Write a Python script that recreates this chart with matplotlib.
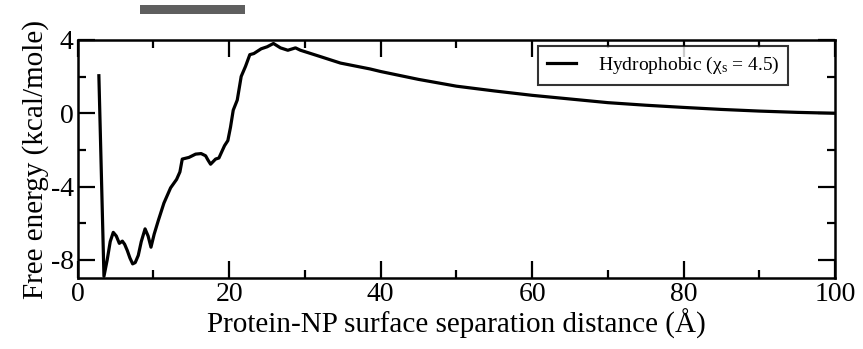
import matplotlib
matplotlib.use("Agg")
import matplotlib.pyplot as plt
from matplotlib.patches import Rectangle

# Free-energy profile vs. protein-NP surface separation
separation = [2.8, 3.47, 3.9, 4.3, 4.7, 5.1, 5.5, 5.9, 6.2, 6.55, 6.9, 7.26, 7.6,
              8.0, 8.4, 8.9, 9.3, 9.68, 10.1, 10.65, 11.39, 12.27, 13.06, 13.5, 13.81,
              14.69, 15.57, 16.3, 16.89, 17.2, 17.55, 18.21, 18.65, 19.39, 19.83, 20.18,
              20.54, 21.07, 21.59, 22.16, 22.73, 23.26, 24.23, 25.02, 25.85, 26.78,
              27.75, 28.76, 29.42, 32.0, 34.7, 38.6, 40.0, 45.0, 50.0, 55.0, 60.0,
              65.0, 70.0, 75.0, 80.0, 85.0, 90.0, 95.0, 100.0]
free_energy = [2.05, -8.9, -8.0, -7.0, -6.5, -6.7, -7.1, -6.98, -7.15, -7.49, -7.9,
               -8.22, -8.15, -7.76, -7.0, -6.31, -6.7, -7.31, -6.6, -5.85, -4.9, -4.07,
               -3.61, -3.2, -2.5, -2.41, -2.23, -2.2, -2.32, -2.55, -2.78, -2.5, -2.44,
               -1.77, -1.49, -0.76, 0.17, 0.72, 2.01, 2.56, 3.2, 3.26, 3.52, 3.63,
               3.81, 3.57, 3.44, 3.57, 3.44, 3.1, 2.74, 2.42, 2.28, 1.85, 1.48, 1.22,
               0.98, 0.78, 0.58, 0.44, 0.32, 0.21, 0.12, 0.05, 0.0]

series_label = r"Hydrophobic (χ$_{\rm s}$ = 4.5)"
x_label = "Protein-NP surface separation distance (Å)"
y_label = "Free energy (kcal/mole)"
x_ticks = [0, 20, 40, 60, 80, 100]
y_ticks = [-8, -4, 0, 4]

plt.rcParams["font.family"] = ["Liberation Serif", "DejaVu Serif"]
plt.rcParams["mathtext.fontset"] = "custom"
plt.rcParams["mathtext.rm"] = "Liberation Serif"
plt.rcParams["mathtext.it"] = "Liberation Serif:italic"
plt.rcParams["axes.unicode_minus"] = False

fig = plt.figure(figsize=(8.63, 3.49), dpi=100)
ax = fig.add_axes([0.090, 0.2030, 0.8776, 0.6824])

ax.plot(separation, free_energy, color="black", lw=2.3, label=series_label,
        solid_joinstyle="round")

ax.set_xlim(0, 100)
ax.set_ylim(-9, 4)
ax.set_xticks(x_ticks)
ax.set_xticks(range(0, 101, 10), minor=True)
ax.set_yticks(y_ticks)
ax.set_yticks([-6, -2, 2], minor=True)
ax.tick_params(which="both", direction="in", top=True, right=True,
               labelsize=20, width=1.6)
ax.tick_params(axis="x", pad=3)
ax.tick_params(axis="y", pad=3)
ax.tick_params(which="major", length=12)
ax.tick_params(which="minor", length=6)
for s in ax.spines.values():
    s.set_linewidth(1.8)

ax.set_xlabel(x_label, fontsize=21, labelpad=1)
ax.set_ylabel(y_label, fontsize=21, labelpad=1)

leg = ax.legend(loc="upper right", bbox_to_anchor=(0.938, 0.975), fontsize=14,
                frameon=True, fancybox=False, shadow=False, handlelength=1.5,
                borderpad=0.45, handletextpad=1.1, borderaxespad=0)
leg.get_frame().set_edgecolor("black")
leg.get_frame().set_linewidth(1.5)

# grey header bar above the plot
fig.patches.append(Rectangle((140 / 863, 1 - 14 / 349), 105 / 863, 9 / 349,
                             transform=fig.transFigure, facecolor="#5f5f5f",
                             edgecolor="none"))

fig.savefig("out.png", dpi=100)
